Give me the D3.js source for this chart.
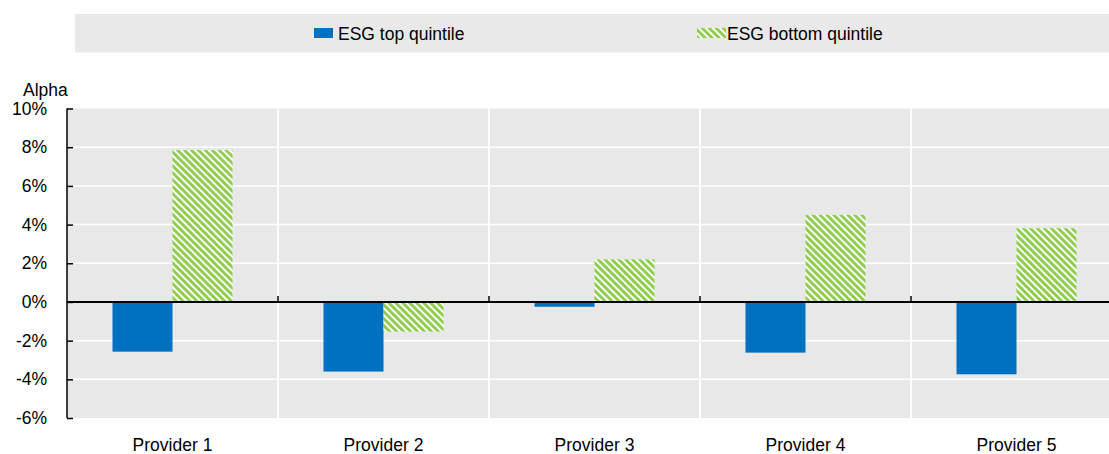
<!DOCTYPE html>
<html>
<head>
<meta charset="utf-8">
<script src="https://cdn.jsdelivr.net/npm/d3@7"></script>
<style>
  html, body { margin: 0; padding: 0; background: #fff; }
  svg { display: block; font-family: "Liberation Sans", Arial, sans-serif; }
</style>
</head>
<body>
<svg id="chart" width="1109" height="454"></svg>
<script>
// Alpha of ESG top and bottom quintile portfolios, by rating provider
const providers = ["Provider 1", "Provider 2", "Provider 3", "Provider 4", "Provider 5"];
const topQuintile = [-2.57, -3.6, -0.25, -2.62, -3.74];
const bottomQuintile = [7.85, -1.53, 2.2, 4.5, 3.81];
const seriesNames = ["ESG top quintile", "ESG bottom quintile"];
const yTicks = [-6, -4, -2, 0, 2, 4, 6, 8, 10];

const svg = d3.select("#chart");
const W = 1109, H = 454;
const margin = { left: 67, top: 108.5, bottom: 418 };
const bandWidth = 211;
const FONT = 17.5;

const blue = "#0070c0";
const green = "#8fcd4c";
const plotBg = "#e8e8e8";

// Diagonal hatch for the bottom-quintile bars
const defs = svg.append("defs");
const pat = defs.append("pattern")
  .attr("id", "hatch")
  .attr("patternUnits", "userSpaceOnUse")
  .attr("width", 4.9)
  .attr("height", 10)
  .attr("patternTransform", "rotate(-45)");
pat.append("rect").attr("width", 4.9).attr("height", 10).attr("fill", "#ffffff");
pat.append("rect").attr("width", 2.9).attr("height", 10).attr("fill", green);

const x = d3.scaleBand()
  .domain(providers)
  .range([margin.left, margin.left + bandWidth * providers.length])
  .padding(0);

const xInner = d3.scaleBand()
  .domain(seriesNames)
  .range([45.5, bandWidth - 45.5])
  .padding(0);

const y = d3.scaleLinear().domain([-6, 10]).range([margin.bottom, margin.top]);

// Legend strip
svg.append("rect")
  .attr("x", 75).attr("y", 14)
  .attr("width", W - 75).attr("height", 38.5)
  .attr("fill", "#e9e9e9");

const legendItems = [
  { name: seriesNames[0], fill: blue, sx: 314, sw: 19, tx: 338 },
  { name: seriesNames[1], fill: "url(#hatch)", sx: 697, sw: 29, tx: 727 }
];
legendItems.forEach(d => {
  svg.append("rect")
    .attr("x", d.sx).attr("y", 28)
    .attr("width", d.sw).attr("height", 10)
    .attr("fill", d.fill);
  svg.append("text")
    .attr("x", d.tx).attr("y", 39.5)
    .attr("font-size", FONT)
    .attr("fill", "#000")
    .text(d.name);
});

// Plot background
const plotRight = margin.left + bandWidth * providers.length;
svg.append("rect")
  .attr("x", margin.left).attr("y", margin.top)
  .attr("width", plotRight - margin.left)
  .attr("height", margin.bottom - margin.top)
  .attr("fill", plotBg);

// Horizontal gridlines
svg.append("g")
  .selectAll("line")
  .data(yTicks.filter(t => t !== 0 && t !== -6 && t !== 10))
  .join("line")
  .attr("x1", margin.left).attr("x2", plotRight)
  .attr("y1", d => y(d)).attr("y2", d => y(d))
  .attr("stroke", "#ffffff").attr("stroke-width", 1.5);

// Vertical separators between providers
svg.append("g")
  .selectAll("line")
  .data(providers.slice(1))
  .join("line")
  .attr("x1", d => x(d)).attr("x2", d => x(d))
  .attr("y1", margin.top).attr("y2", margin.bottom)
  .attr("stroke", "#ffffff").attr("stroke-width", 2);

// Bars
const rows = providers.map((p, i) => ({ p, vals: [topQuintile[i], bottomQuintile[i]] }));
const groups = svg.append("g")
  .selectAll("g")
  .data(rows)
  .join("g")
  .attr("transform", d => `translate(${x(d.p)},0)`);

groups.selectAll("rect")
  .data(d => d.vals.map((v, j) => ({ v, s: seriesNames[j] })))
  .join("rect")
  .attr("x", d => xInner(d.s))
  .attr("width", xInner.bandwidth())
  .attr("y", d => y(Math.max(0, d.v)))
  .attr("height", d => Math.abs(y(d.v) - y(0)))
  .attr("fill", d => d.s === seriesNames[0] ? blue : "url(#hatch)");

// Zero line with small upward ticks at provider boundaries
svg.append("line")
  .attr("x1", margin.left).attr("x2", plotRight)
  .attr("y1", y(0)).attr("y2", y(0))
  .attr("stroke", "#000").attr("stroke-width", 2);

svg.append("g")
  .selectAll("line")
  .data(providers.slice(1))
  .join("line")
  .attr("x1", d => x(d)).attr("x2", d => x(d))
  .attr("y1", y(0) - 6).attr("y2", y(0))
  .attr("stroke", "#000").attr("stroke-width", 1.5);

// Y axis with inward ticks
const yAxis = d3.axisLeft(y)
  .tickValues(yTicks)
  .tickSize(-6)
  .tickPadding(20)
  .tickFormat(d => d + "%");

const gy = svg.append("g")
  .attr("transform", `translate(${margin.left},0)`)
  .call(yAxis);
gy.select(".domain").attr("stroke", "#000").attr("stroke-width", 1.5)
  .attr("d", `M0,${margin.top}V${margin.bottom}`);
gy.selectAll(".tick line").attr("stroke", "#000").attr("stroke-width", 1.5);
gy.selectAll(".tick text")
  .attr("font-size", FONT)
  .attr("font-family", "'Liberation Sans', Arial, sans-serif")
  .attr("fill", "#000")
  .attr("x", -20);

// Axis title
svg.append("text")
  .attr("x", 23).attr("y", 96)
  .attr("font-size", FONT)
  .attr("fill", "#000")
  .text("Alpha");

// Provider labels
svg.append("g")
  .selectAll("text")
  .data(providers)
  .join("text")
  .attr("x", d => x(d) + x.bandwidth() / 2)
  .attr("y", 451)
  .attr("text-anchor", "middle")
  .attr("font-size", FONT)
  .attr("fill", "#000")
  .text(d => d);
</script>
</body>
</html>
